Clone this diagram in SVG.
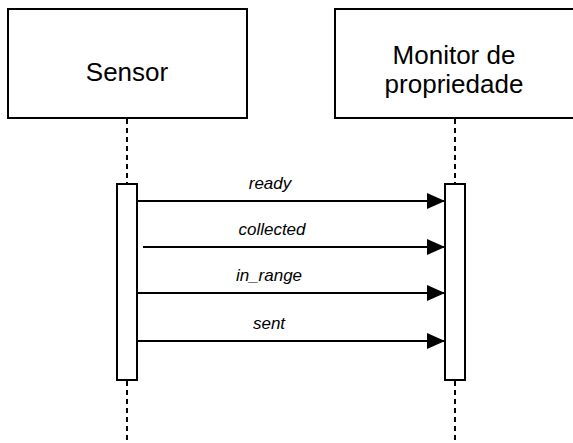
<svg xmlns="http://www.w3.org/2000/svg" width="573" height="443" viewBox="0 0 573 443">
  <style>
    .box { fill: #ffffff; stroke: #000000; stroke-width: 2; }
    .life { stroke: #000000; stroke-width: 2; stroke-dasharray: 5 4; fill: none; }
    .msg { stroke: #000000; stroke-width: 2; fill: none; marker-end: url(#arrow); }
    .title { font-family: "Liberation Sans", Arial, sans-serif; font-size: 26px; fill: #000000; text-anchor: middle; }
    .label { font-family: "Liberation Sans", Arial, sans-serif; font-size: 17px; font-style: italic; fill: #000000; text-anchor: middle; }
  </style>
  <defs>
    <marker id="arrow" markerUnits="userSpaceOnUse" markerWidth="18" markerHeight="16" refX="18" refY="8" orient="auto">
      <path d="M0,0 L18,8 L0,16 Z" fill="#000000"/>
    </marker>
  </defs>
  <rect width="573" height="443" fill="#ffffff"/>

  <g id="lifelines">
    <line class="life" x1="127" y1="119" x2="127" y2="184"/>
    <line class="life" x1="127" y1="381" x2="127" y2="443"/>
    <line class="life" x1="455" y1="119" x2="455" y2="184"/>
    <line class="life" x1="455" y1="381" x2="455" y2="443"/>
  </g>

  <g id="sensor">
    <rect class="box" x="8" y="9" width="239" height="109"/>
    <text class="title" x="127" y="81">Sensor</text>
  </g>

  <g id="monitor">
    <rect class="box" x="335" y="9" width="240" height="109"/>
    <text class="title" x="454" y="64">Monitor de</text>
    <text class="title" x="454" y="93">propriedade</text>
  </g>

  <g id="sensor-activation">
    <rect class="box" x="117" y="184" width="20" height="196"/>
  </g>

  <g id="monitor-activation">
    <rect class="box" x="445" y="184" width="20" height="196"/>
  </g>

  <g id="connectors">
    <line class="msg" x1="137" y1="201" x2="445" y2="201"/>
    <text class="label" x="270" y="189">ready</text>
    <line class="msg" x1="143" y1="247" x2="445" y2="247"/>
    <text class="label" x="272" y="235">collected</text>
    <line class="msg" x1="137" y1="293" x2="445" y2="293"/>
    <text class="label" x="269" y="281">in_range</text>
    <line class="msg" x1="137" y1="341" x2="445" y2="341"/>
    <text class="label" x="269" y="329">sent</text>
  </g>
</svg>
